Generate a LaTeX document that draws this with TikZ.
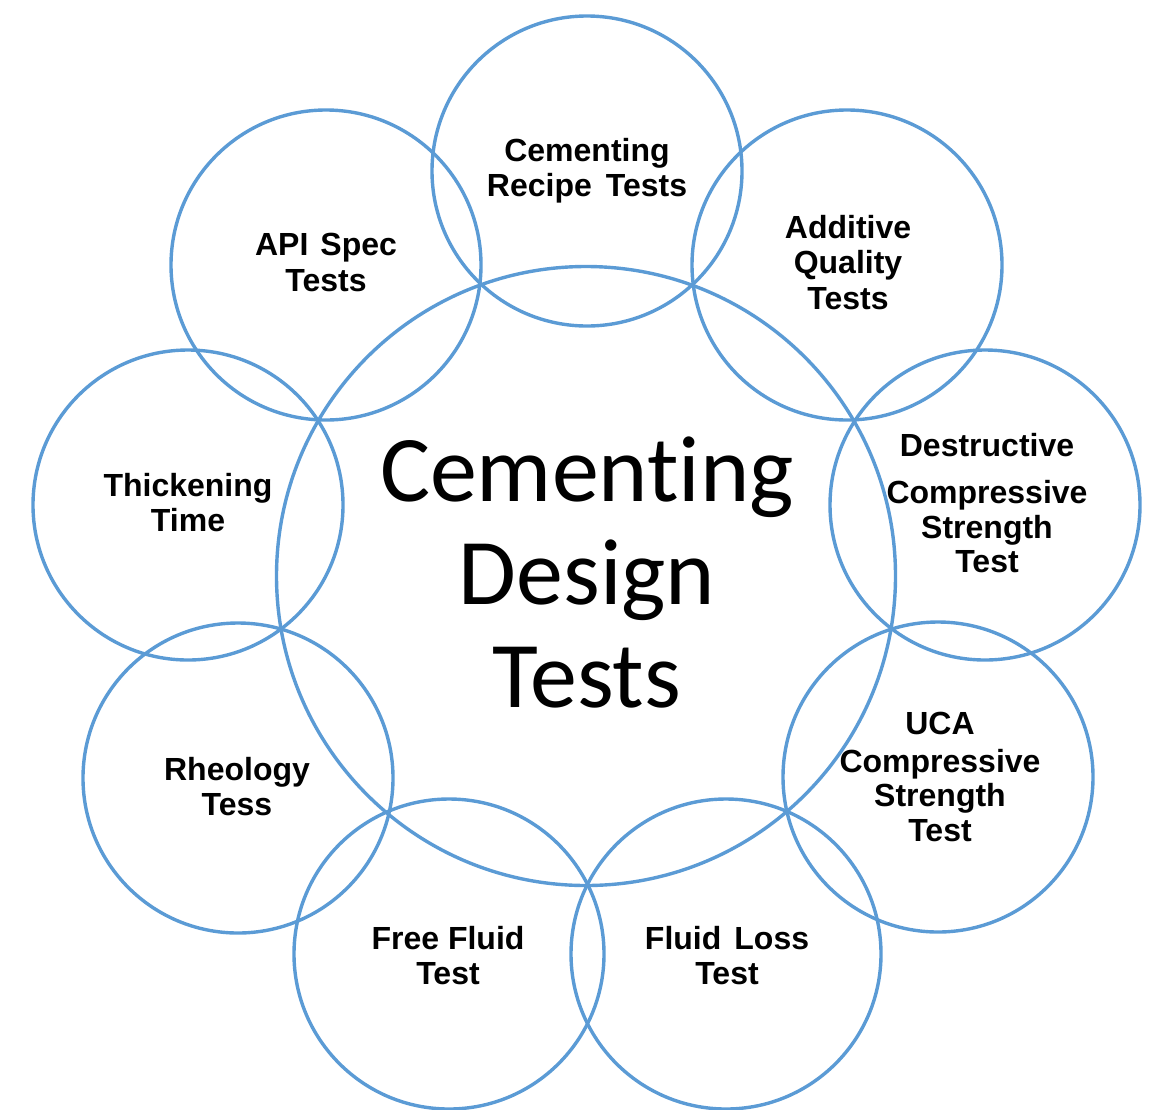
\documentclass[tikz,border=0pt]{standalone}
\usepackage{fontspec}
\setmainfont{Liberation Sans}
\newfontfamily\calibrifont[Ligatures=NoCommon]{Carlito}
\definecolor{ringblue}{HTML}{5B9BD5}
\begin{document}
\begin{tikzpicture}[x=1pt,y=-1pt,
  ring/.style={circle, draw=ringblue, line width=3.4pt, inner sep=0pt, outer sep=0pt},
  small/.style={ring, minimum size=310pt},
  lbl/.style={anchor=north, align=center, inner sep=0pt,
    font=\fontsize{32}{35.5}\selectfont\bfseries},
  title/.style={anchor=north, align=center, inner sep=0pt,
    font=\calibrifont\fontsize{94}{103}\selectfont}]
\useasboundingbox (0,0) rectangle (1155,1109);
\node[ring, minimum size=619pt] (main) at (586,576) {};
\node[small] (c1) at (587,171) {};
\node[small] (c2) at (847,265) {};
\node[small] (c3) at (985,505) {};
\node[small] (c4) at (938,777) {};
\node[small] (c5) at (726,954) {};
\node[small] (c6) at (449,954) {};
\node[small] (c7) at (238,778) {};
\node[small] (c8) at (188,505) {};
\node[small] (c9) at (326,265) {};
\node[title] (t0) at (587,437) {Cement\kern0pt ing\\Design\\Tests};
\node[lbl] (t1) at (587,138) {Cementing\\Recipe\hspace{14pt}Tests};
\node[lbl] (t2) at (848,215) {Additive\\Quality\\Tests};
\node[lbl, font=\fontsize{32}{34.5}\selectfont\bfseries] (t3) at (987,433) {Destructive\\[13pt]Compressive\\Strength\\Test};
\node[lbl, font=\fontsize{32}{34.5}\selectfont\bfseries] (t4) at (940,712) {UCA\\[3pt]Compressive\\Strength\\Test};
\node[lbl] (t5) at (727,926) {Fluid\hspace{13pt}Loss\\Test};
\node[lbl] (t6) at (448,926) {Free Fluid\\Test};
\node[lbl, font=\fontsize{32}{35}\selectfont\bfseries] (t7) at (237,757) {Rheology\\Tess};
\node[lbl, font=\fontsize{32}{35}\selectfont\bfseries] (t8) at (188,473) {Thickening\\Time};
\node[lbl, font=\fontsize{32}{35.5}\selectfont\bfseries] (t9) at (326,233) {API\hspace{12pt}Spec\\Tests};
\end{tikzpicture}
\end{document}
